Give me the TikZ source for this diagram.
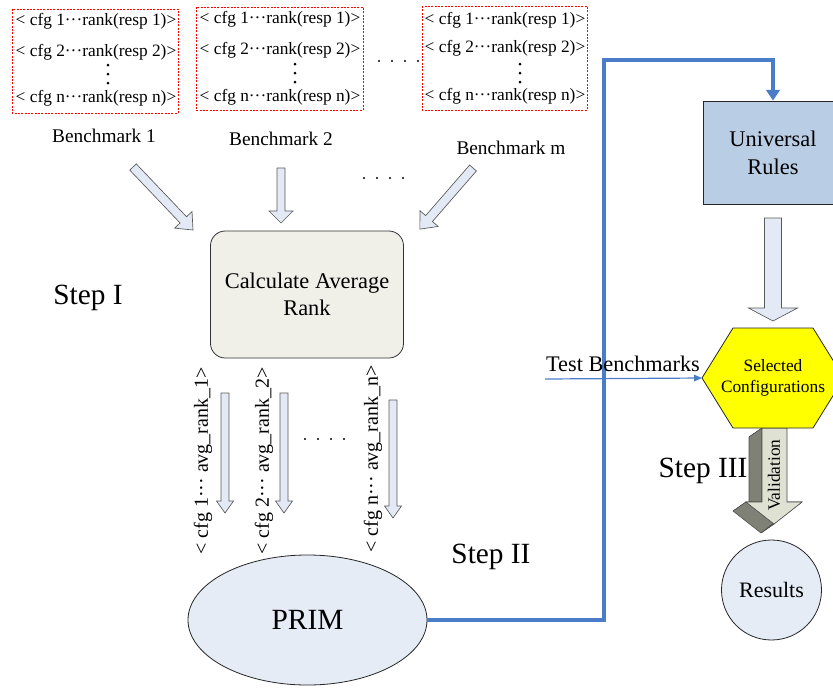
\documentclass[tikz,border=0pt]{standalone}
\usepackage{fontspec}
\setmainfont{Liberation Serif}
\usetikzlibrary{calc,arrows.meta,shapes.geometric}
\definecolor{arrfill}{HTML}{E3EAF5}
\definecolor{calcfill}{HTML}{F0F0E9}
\definecolor{univfill}{HTML}{B9CDE5}
\definecolor{linkblue}{HTML}{4A7CC7}
\definecolor{primfill}{HTML}{E5ECF6}
\definecolor{valfront}{HTML}{DFE1D2}
\definecolor{valside}{HTML}{7F8176}
\definecolor{hexyellow}{HTML}{FFFF00}
\tikzset{
  cfgtxt/.style={font=\fontsize{13}{15}\selectfont, inner sep=0pt},
  benchtxt/.style={font=\fontsize{14.5}{17}\selectfont, inner sep=0pt},
  steptxt/.style={font=\fontsize{22}{26}\selectfont, inner sep=0pt},
  rottxt/.style={font=\fontsize{15}{17}\selectfont, inner sep=0pt, rotate=90},
  cfgbox/.style={draw=red, dash pattern=on 1.5pt off 1pt, line width=0.6pt},
  barrow/.style={draw=black!65, fill=arrfill, line width=0.5pt, line join=miter},
  dotmark/.style={fill=black},
  link/.style={draw=linkblue, line width=2.5pt, -{Triangle[width=10pt,length=8pt]}},
  thinlink/.style={draw=linkblue, line width=0.9pt, -{Triangle[width=5pt,length=6pt]}},
}
\newcommand\blockarrow[6]{% start, angle, length, shaft width, head width, head length
  \begin{scope}[shift={(#1)},rotate=#2]
    \draw[barrow] (0,-#4/2) -- ({#3-#6},-#4/2) -- ({#3-#6},-#5/2) -- (#3,0)
      -- ({#3-#6},#5/2) -- ({#3-#6},#4/2) -- (0,#4/2) -- cycle;
  \end{scope}}
\begin{document}
\begin{tikzpicture}[x=0.75pt,y=-0.75pt]
\useasboundingbox (0,0) rectangle (833,687);
\clip (0,0) rectangle (833,687);

% ---- benchmark boxes ----
\draw[cfgbox] (12,9) rectangle (178,113);
\node[cfgtxt] (b1a) at (96,21) {< cfg 1···rank(resp 1)>};
\node[cfgtxt] (b1b) at (96,52) {< cfg 2···rank(resp 2)>};
\node[cfgtxt] (b1c) at (96,98) {< cfg n···rank(resp n)>};
\foreach \yy in {65,74,83} \fill[dotmark] (108,\yy) circle (1.5);

\draw[cfgbox] (196,7) rectangle (363,110);
\node[cfgtxt] (b2a) at (280,19) {< cfg 1···rank(resp 1)>};
\node[cfgtxt] (b2b) at (280,50) {< cfg 2···rank(resp 2)>};
\node[cfgtxt] (b2c) at (280,97) {< cfg n···rank(resp n)>};
\foreach \yy in {64,73,82} \fill[dotmark] (295,\yy) circle (1.5);

\draw[cfgbox] (422,6) rectangle (587,110);
\node[cfgtxt] (b3a) at (505,20) {< cfg 1···rank(resp 1)>};
\node[cfgtxt] (b3b) at (505,48) {< cfg 2···rank(resp 2)>};
\node[cfgtxt] (b3c) at (505,96) {< cfg n···rank(resp n)>};
\foreach \yy in {64,73,82} \fill[dotmark] (520,\yy) circle (1.5);

\foreach \xx in {379,392,405,418} \fill[dotmark] (\xx,61) circle (1.2);

% ---- benchmark labels ----
\node[benchtxt] (bn1) at (104,136) {Benchmark 1};
\node[benchtxt] (bn2) at (281,139) {Benchmark 2};
\node[benchtxt] (bnm) at (511,148) {Benchmark m};
\foreach \xx in {364,377,390,403} \fill[dotmark] (\xx,178) circle (1.2);

\blockarrow{133,167}{-46.4}{87}{9}{24}{14}
\blockarrow{281,168}{-90}{55}{8}{24}{12}
\blockarrow{473,168}{-131}{81}{9}{24}{14}

% ---- calculate ----
\node[draw=black!80, fill=calcfill, rounded corners=11pt, line width=0.6pt,
      minimum width=144.75pt, minimum height=95.25pt, align=center,
      font=\fontsize{16.8}{20.25}\selectfont] (calc) at (307,294.5)
      {Calculate Average\\Rank};
\node[steptxt] (s1) at (88,298) {Step I};

% ---- average rank arrows ----
\node[rottxt] (r1) at (203,461) {< cfg 1··· avg\_rank\_1>};
\node[rottxt] (r2) at (264,461) {< cfg 2··· avg\_rank\_2>};
\node[rottxt] (r3) at (373,459) {< cfg n··· avg\_rank\_n>};
\blockarrow{225,393}{-90}{120}{8}{17}{12}
\blockarrow{284,393}{-90}{120}{8}{17}{12}
\blockarrow{393,400}{-90}{118}{8}{17}{12}
\foreach \xx in {305,318,331,344} \fill[dotmark] (\xx,439) circle (1.2);

% ---- PRIM ----
\node[ellipse, draw=black!85, fill=primfill, line width=0.6pt,
      minimum width=179.25pt, minimum height=97.5pt,
      font=\fontsize{22}{26}\selectfont] (prim) at (307.5,620) {PRIM};
\node[steptxt] (s2) at (491,557) {Step II};

% ---- universal rules ----
\node[draw=black!85, fill=univfill, line width=0.6pt, minimum width=105pt,
      minimum height=77.25pt, align=center,
      font=\fontsize{16.8}{21}\selectfont] (univ) at (773,152.5) {Universal\\Rules};
\coordinate (c1) at (604,60);
\draw[link] (prim.east) -| (c1) -| (univ.north);

\blockarrow{773,218}{-90}{103}{17}{49}{13}

% ---- validation 3D arrow ----
\coordinate (f1) at (762,428);
\coordinate (f2) at (787,428);
\coordinate (f3) at (787,502);
\coordinate (f4) at (802,502);
\coordinate (f5) at (774,524);
\coordinate (f6) at (746,502);
\coordinate (f7) at (762,502);
\foreach \a/\b in {f1/f2,f7/f1,f6/f7,f5/f6,f4/f5,f3/f4}
  \draw[fill=valside, draw=black!70, line width=0.4pt, line join=round]
    (\a) -- (\b) -- ($(\b)+(-13,9)$) -- ($(\a)+(-13,9)$) -- cycle;
\draw[fill=valfront, draw=black!70, line width=0.4pt]
  (f1) -- (f2) -- (f3) -- (f4) -- (f5) -- (f6) -- (f7) -- cycle;
\node[font=\fontsize{13}{15}\selectfont, rotate=90, inner sep=0pt] (val) at (774,475) {Validation};
\node[steptxt] (s3) at (703,471) {Step III};

% ---- hexagon ----
\coordinate (hw) at (702,378);
\draw[fill=hexyellow, draw=black!85, line width=0.6pt]
  (hw) -- (733,328) -- (813,328) -- (844,378) -- (813,428) -- (733,428) -- cycle;
\node[align=center, font=\fontsize{13}{16}\selectfont, inner sep=0pt] (sel) at (773,378)
  {Selected\\Configurations};

\coordinate (tb) at (545,379);
\draw[thinlink] (tb) -- (hw);
\node[font=\fontsize{16.7}{19}\selectfont, inner sep=0pt] (tbl) at (623,364) {Test Benchmarks};

% ---- results ----
\node[circle, draw=black!85, fill=primfill, line width=0.6pt, minimum size=75pt,
      font=\fontsize{16.5}{19}\selectfont] (res) at (771.5,590) {Results};
\end{tikzpicture}
\end{document}
